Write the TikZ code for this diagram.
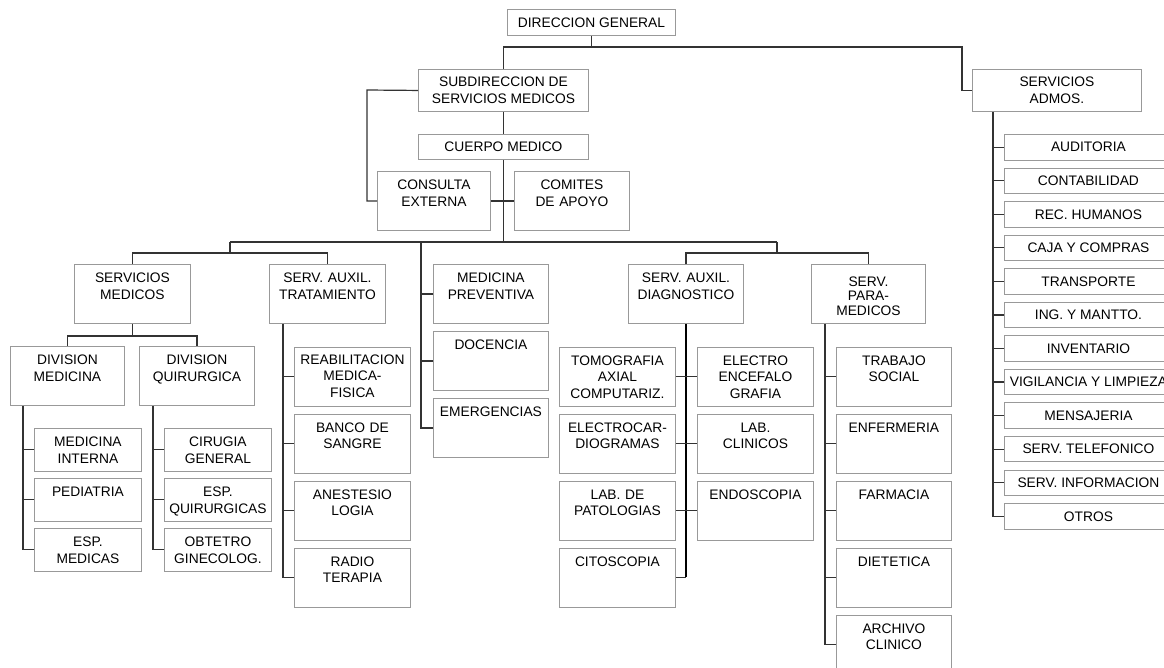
\documentclass[tikz,border=0pt]{standalone}
\usepackage{fontspec}
\setmainfont{Liberation Sans}
\usetikzlibrary{calc}
\definecolor{edge}{HTML}{999999}
\definecolor{wire}{HTML}{333333}

\begin{document}
\begin{tikzpicture}[x=1pt,y=-1pt,
  font=\fontsize{13.8}{16.5}\selectfont,
  base/.style={draw=edge, line width=0.9pt, inner sep=0pt, anchor=north west},
  flatbox/.style 2 args={base, align=center, minimum width=#1, minimum height=#2},
  tallbox/.style={base, align=center, text width=#1, text height=18.5pt, text depth=40.5pt},
  midbox/.style={base, align=center, text width=#1, text height=18.5pt, text depth=24pt},
  link/.style={draw=wire, line width=1.2pt},
  spine/.style={draw=black, line width=2.2pt}]

\useasboundingbox (0,0) rectangle (1164,667);
\clip (0,0) rectangle (1164,667);

% top of the hierarchy
\node[flatbox={168pt}{26pt}] (dg) at (507,9) {DIRECCION GENERAL};
\node[flatbox={170pt}{42pt}] (subdir) at (418,69) {SUBDIRECCION DE\\SERVICIOS MEDICOS};
\node[flatbox={170pt}{25pt}] (cuerpo) at (418,134) {CUERPO MEDICO};
\node[tallbox=113pt] (consulta) at (377,171) {CONSULTA\\EXTERNA};
\node[tallbox=115pt] (comites) at (514,171) {COMITES\\DE APOYO};
\node[flatbox={169pt}{42pt}] (admos) at (972,69) {SERVICIOS\\ADMOS.};

% second level
\node[tallbox=116pt] (sm) at (74,264) {SERVICIOS\\MEDICOS};
\node[tallbox=116pt] (trat) at (269,264) {SERV. AUXIL.\\TRATAMIENTO};
\node[tallbox=115pt] (medprev) at (433,264) {MEDICINA\\PREVENTIVA};
\node[tallbox=115pt] (docencia) at (433,331) {DOCENCIA};
\node[tallbox=115pt] (emerg) at (433,398) {EMERGENCIAS};
\node[tallbox=115pt] (diag) at (628,264) {SERV. AUXIL.\\DIAGNOSTICO};
\node[tallbox=114pt, font=\fontsize{13.8}{14.5}\selectfont, text height=22pt, text depth=37pt] (para) at (811,264) {SERV.\\PARA-\\MEDICOS};

% medical services
\node[tallbox=114pt] (divmed) at (10,346) {DIVISION\\MEDICINA};
\node[tallbox=115pt] (divq) at (139,346) {DIVISION\\QUIRURGICA};
\node[midbox=107pt] (medint) at (34,428) {MEDICINA\\INTERNA};
\node[midbox=107pt] (pediatria) at (34,478) {PEDIATRIA};
\node[midbox=107pt] (espmed) at (34,528) {ESP.\\MEDICAS};
\node[midbox=107pt] (cirugia) at (164,428) {CIRUGIA\\GENERAL};
\node[midbox=107pt] (espq) at (164,478) {ESP.\\QUIRURGICAS};
\node[midbox=107pt] (obtetro) at (164,528) {OBTETRO\\GINECOLOG.};

% treatment
\node[tallbox=116pt, text height=17.5pt, text depth=41.5pt] (reab) at (294,346.5) {REABILITACION\\MEDICA-\\FISICA};
\node[tallbox=116pt] (banco) at (294,413.5) {BANCO DE\\SANGRE};
\node[tallbox=116pt] (anest) at (294,480.5) {ANESTESIO\\LOGIA};
\node[tallbox=116pt] (radio) at (294,547.5) {RADIO\\TERAPIA};

% diagnosis
\node[tallbox=116pt] (tomo) at (559,346.5) {TOMOGRAFIA\\AXIAL\\COMPUTARIZ.};
\node[tallbox=116pt] (ecg) at (559,413.5) {ELECTROCAR-\\DIOGRAMAS};
\node[tallbox=116pt] (labpat) at (559,480.5) {LAB. DE\\PATOLOGIAS};
\node[tallbox=116pt] (cito) at (559,547.5) {CITOSCOPIA};
\node[tallbox=116pt] (eeg) at (697,346.5) {ELECTRO\\ENCEFALO\\GRAFIA};
\node[tallbox=116pt] (labcli) at (697,413.5) {LAB.\\CLINICOS};
\node[tallbox=116pt] (endo) at (697,480.5) {ENDOSCOPIA};

% paramedical
\node[tallbox=115pt] (trab) at (836,346.5) {TRABAJO\\SOCIAL};
\node[tallbox=115pt] (enf) at (836,413.5) {ENFERMERIA};
\node[tallbox=115pt] (farm) at (836,480.5) {FARMACIA};
\node[tallbox=115pt] (diet) at (836,547.5) {DIETETICA};
\node[tallbox=115pt] (arch) at (836,614.5) {ARCHIVO\\CLINICO};

% administrative services
\foreach \t [count=\i from 0] in {AUDITORIA,CONTABILIDAD,REC. HUMANOS,CAJA Y COMPRAS,TRANSPORTE,ING. Y MANTTO.,INVENTARIO,VIGILANCIA Y LIMPIEZA,MENSAJERIA,SERV. TELEFONICO,SERV. INFORMACION,OTROS}
  \node[flatbox={168pt}{25.5pt}] (a\i) at (1004,{134+33.55*\i}) {\t};

% connectors: top
\coordinate (tapA) at (962,47);
\draw[link] (dg.south) -- (dg.south |- tapA);
\draw[link] (subdir.north) |- (tapA) |- (admos.west);
\coordinate (ceA) at (367,90);
\draw[link] (subdir.west) -- (ceA) |- (consulta.west);
\draw[link] (subdir.south) -- (cuerpo.north);
\draw[link] (consulta.east) -- (comites.west);

% main bus
\coordinate (busL) at (230,242);
\coordinate (busM) at (421,242);
\coordinate (busR) at (777,242);
\coordinate (jL) at (230,253);
\coordinate (jR) at (777,253);
\draw[link] (cuerpo.south) -- (cuerpo.south |- busL);
\draw[link] (busL) -- (busR);
\draw[link] (busL) -- (jL);
\draw[link] (sm.north) |- (jL) -| (trat.north);
\draw[link] (busR) -- (jR);
\draw[link] (diag.north) |- (jR) -| (para.north);
\draw[link] (busM) |- (emerg.west);
\draw[link] (medprev.west) -- (medprev.west -| busM);
\draw[link] (docencia.west) -- (docencia.west -| busM);

% medical services branch
\coordinate (smj) at ($(sm.south)+(0,12)$);
\draw[link] (sm.south) -- (smj);
\draw[link] (divmed.north) |- (smj) -| (divq.north);
\coordinate (dmv) at ($(divmed.south west)+(13,0)$);
\draw[link] (dmv) |- (espmed.west);
\foreach \c in {medint,pediatria} \draw[link] (\c.west) -- (\c.west -| dmv);
\coordinate (dqv) at ($(divq.south west)+(14,0)$);
\draw[link] (dqv) |- (obtetro.west);
\foreach \c in {cirugia,espq} \draw[link] (\c.west) -- (\c.west -| dqv);

% treatment branch
\coordinate (trv) at ($(trat.south west)+(14,0)$);
\draw[link] (trv) |- (radio.west);
\foreach \c in {reab,banco,anest} \draw[link] (\c.west) -- (\c.west -| trv);

% diagnosis branch
\draw[spine] (diag.south) -- (diag.south |- cito.east);
\draw[link] (tomo.east) -- (eeg.west);
\draw[link] (ecg.east) -- (labcli.west);
\draw[link] (labpat.east) -- (endo.west);
\draw[link] (cito.east) -- (cito.east -| diag.south);

% paramedical branch
\coordinate (pav) at ($(para.south west)+(14,0)$);
\draw[link] (pav) |- (arch.west);
\foreach \c in {trab,enf,farm,diet} \draw[link] (\c.west) -- (\c.west -| pav);

% administrative branch
\coordinate (adv) at ($(admos.south west)+(21,0)$);
\draw[link] (adv) |- (a11.west);
\foreach \i in {0,...,10} \draw[link] (a\i.west) -- (a\i.west -| adv);
\end{tikzpicture}
\end{document}
